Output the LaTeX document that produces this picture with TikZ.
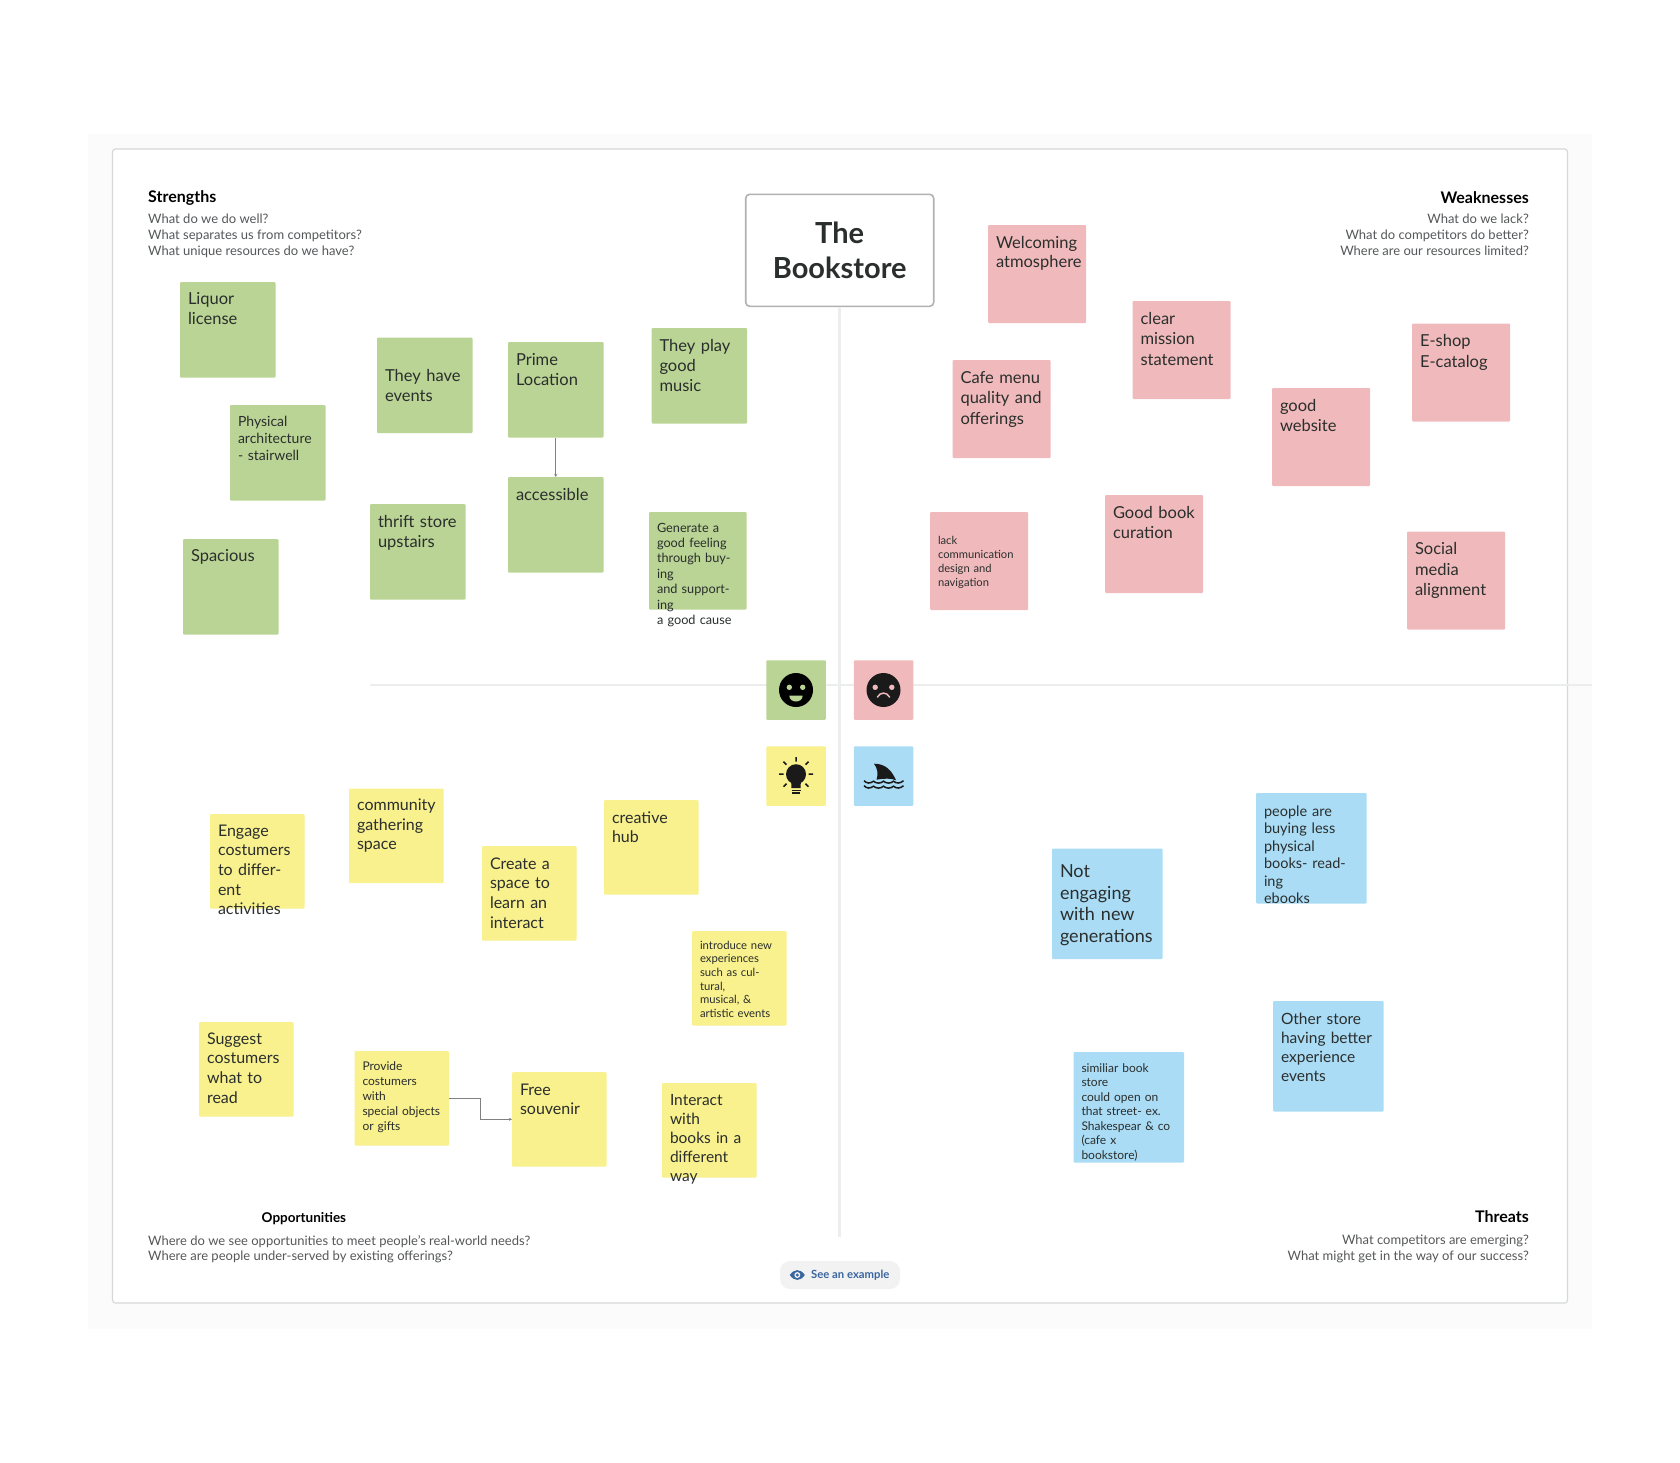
\documentclass[tikz,border=0pt]{standalone}
\usepackage{fontspec}
\setmainfont{Lato}
\usepackage{xcolor}
\usetikzlibrary{arrows.meta, calc}

\definecolor{stickygreen}{HTML}{BAD496}
\definecolor{stickypink}{HTML}{F0BABC}
\definecolor{stickyyellow}{HTML}{F9F18E}
\definecolor{stickyblue}{HTML}{AADCF6}
\definecolor{notetext}{HTML}{2A2E2C}
\definecolor{asktext}{HTML}{555759}
\definecolor{crossline}{HTML}{ECEEEE}
\definecolor{iconblack}{HTML}{1A1A1A}
\definecolor{linkblue}{HTML}{3A659F}

\tikzset{
    sticky/.style 2 args={rectangle, anchor=north west, rounded corners=1pt, inner xsep=8pt, inner ysep=0pt, outer sep=0pt,
        align=left, text=notetext, text width={#1-16pt}, text height=#2, text depth={#1-#2}},
    greennote/.style={sticky={95.5pt}{#1}, fill=stickygreen},
    pinknote/.style={sticky={98pt}{#1}, fill=stickypink},
    yellownote/.style={sticky={94.5pt}{#1}, fill=stickyyellow},
    bluenote/.style={sticky={110.5pt}{#1}, fill=stickyblue},
    notefont/.style 2 args={font=\fontsize{#1}{#2}\selectfont},
    heading/.style={font=\fontsize{16}{19}\selectfont\bfseries, text=black, inner sep=0pt},
    asking/.style={font=\fontsize{13}{15.7}\selectfont, text=asktext, inner sep=0pt},
    iconbox/.style={rectangle, minimum size=59.5pt, inner sep=0pt, rounded corners=1pt},
    crossrule/.style={draw=crossline, line width=2.6pt},
    linkline/.style={draw=gray, line width=0.9pt, -{Stealth[length=3pt,width=3pt]}},
}

\begin{document}
\begin{tikzpicture}[x=1pt, y=-1pt]
    \useasboundingbox (0,0) rectangle (1680,1462);
    \fill[white] (0,0) rectangle (1680,1462);
    \fill[black!1.5!white] (88,134) rectangle (1592,1329);
    \draw[fill=white, draw=crossline!80!gray, line width=1.2pt, rounded corners=3pt] (112.5,149) rectangle (1567.5,1303);

    % title and the cross
    \node[draw=black!30, fill=white, line width=1.6pt, rounded corners=4pt, minimum width=188pt, minimum height=112pt, align=center,
        font=\fontsize{29}{35}\selectfont\bfseries, text=notetext] (title) at (839.7,250.3) {The\\Bookstore};
    \coordinate (crossbottom) at (839.7,1237);
    \coordinate (crossleft) at (370,685);
    \coordinate (crossright) at (1592,685);
    \draw[crossrule] (title.south) -- (crossbottom);
    \draw[crossrule] (crossleft) -- (crossright);

    % corner texts
    \node[heading, anchor=west] (strengths) at (148,198) {Strengths};
    \node[asking, anchor=north west, align=left] (strengthsask) at (148,214) {What do we do well?\\What separates us from competitors?\\What unique resources do we have?};
    \node[heading, anchor=east] (weaknesses) at (1529,198) {Weaknesses};
    \node[asking, anchor=north east, align=right] (weaknessesask) at (1529,214) {What do we lack?\\What do competitors do better?\\Where are our resources limited?};
    \node[heading, anchor=west, font=\fontsize{13.5}{16}\selectfont\bfseries] (opportunities) at (261.5,1218.5) {Opportunities};
    \node[asking, anchor=north west, align=left] (opportunitiesask) at (148,1235) {Where do we see opportunities to meet people's real-world needs?\\Where are people under-served by existing offerings?};
    \node[heading, anchor=east] (threats) at (1529,1217) {Threats};
    \node[asking, anchor=north east, align=right] (threatsask) at (1529,1235) {What competitors are emerging?\\What might get in the way of our success?};

    % strengths
    \node[greennote=22pt, notefont={16.5}{20}] (liquor) at (180,282) {Liquor\\license};
    \node[greennote=21pt, notefont={14}{17}] (physical) at (230,405) {Physical\\architecture\\- stairwell};
    \node[greennote=22pt, notefont={16.5}{20}] (spacious) at (183,539) {Spacious};
    \node[greennote=44pt, notefont={16.5}{20}] (events) at (377,337.5) {They have\\events};
    \node[greennote=23pt, notefont={16.5}{20}] (thrift) at (370,504) {thrift store\\upstairs};
    \node[greennote=23pt, notefont={16.5}{20}] (prime) at (508,342) {Prime\\Location};
    \node[greennote=23pt, notefont={16.5}{20}] (accessible) at (508,477) {accessible};
    \node[greennote=23pt, notefont={16.5}{20}] (music) at (651.5,328) {They play\\good\\music};
    \node[sticky={97.5pt}{20pt}, fill=stickygreen, notefont={12.7}{15.4}] (feeling) at (649,512) {Generate a\\good feeling\\through buying\\and supporting\\a good cause};
    \draw[linkline] (prime.south) -- (accessible.north);

    % weaknesses
    \node[pinknote=23pt, notefont={16.5}{19.5}] (welcoming) at (988,225) {Welcoming\\atmosphere};
    \node[pinknote=23pt, notefont={16.5}{20.5}] (mission) at (1132.5,301) {clear\\mission\\statement};
    \node[pinknote=23pt, notefont={16.5}{20.5}] (cafe) at (952.5,360) {Cafe menu\\quality and\\offerings};
    \node[pinknote=23pt, notefont={16.5}{20.5}] (website) at (1272,388) {good\\website};
    \node[pinknote=23pt, notefont={16.5}{20.5}] (eshop) at (1412,323.5) {E-shop\\E-catalog};
    \node[pinknote=32pt, notefont={11.2}{14}] (lack) at (930,512) {lack\\communication\\design and\\navigation};
    \node[pinknote=23pt, notefont={16.5}{20.5}] (curation) at (1105,495) {Good book\\curation};
    \node[pinknote=23pt, notefont={16.5}{20.5}] (social) at (1407,531.5) {Social\\media\\alignment};

    % opportunities
    \node[yellownote=22pt, notefont={16}{19.7}] (engage) at (210,814) {Engage\\costumers\\to different\\activities};
    \node[yellownote=22pt, notefont={16}{19.7}] (community) at (349,788.5) {community\\gathering\\space};
    \node[yellownote=23pt, notefont={16}{19.7}] (space) at (482,846) {Create a\\space to\\learn an\\interact};
    \node[yellownote=23pt, notefont={16}{19.7}] (hub) at (604,800) {creative\\hub};
    \node[yellownote=18pt, notefont={11.3}{13.7}] (introduce) at (692,931) {introduce new\\experiences\\such as cultural,\\musical, \&\\artistic events};
    \node[yellownote=22pt, notefont={16}{19.7}] (suggest) at (199,1022) {Suggest\\costumers\\what to\\read};
    \node[yellownote=19pt, notefont={12}{15}] (provide) at (354.5,1051) {Provide\\costumers with\\special objects\\or gifts};
    \node[yellownote=23pt, notefont={16}{19.7}] (souvenir) at (512,1072) {Free\\souvenir};
    \node[yellownote=22pt, notefont={15.5}{19}] (interact) at (662,1083) {Interact with\\books in a\\different\\way};
    \draw[linkline] (provide.east) -| ($(provide.east)!0.5!(souvenir.west)$) |- (souvenir.west);

    % threats
    \node[bluenote=23pt, notefont={14.5}{17.5}] (ebooks) at (1256,793) {people are\\buying less\\physical\\books- reading\\ebooks};
    \node[bluenote=29pt, notefont={18}{21.7}] (generations) at (1052,848.5) {Not\\engaging\\with new\\generations};
    \node[bluenote=23pt, notefont={15.5}{19}] (better) at (1273,1001) {Other store\\having better\\experience\\events};
    \node[bluenote=20pt, notefont={12}{14.5}] (similiar) at (1073.5,1052) {similiar book store\\could open on\\that street- ex.\\Shakespear \& co\\(cafe x\\bookstore)};

    % the four icons
    \node[iconbox, fill=stickygreen] (happy) at (796,690) {};
    \node[iconbox, fill=stickypink] (sad) at (883.5,690) {};
    \node[iconbox, fill=stickyyellow] (bulb) at (796,776.2) {};
    \node[iconbox, fill=stickyblue] (shark) at (883.5,776.2) {};

    \begin{scope}[shift={(happy.center)}]
        \fill[black] (0,0) circle (17);
        \fill[stickygreen] (-6.7,-2.7) circle (2.7) (6.7,-2.7) circle (2.7);
        \fill[stickygreen] (-6.7,5.5) -- (6.7,5.5) .. controls (6.7,13.5) and (-6.7,13.5) .. (-6.7,5.5);
    \end{scope}
    \begin{scope}[shift={(sad.center)}]
        \fill[iconblack] (0,0) circle (17);
        \fill[stickypink] (-8.3,-2.7) circle (2.7) (8.3,-2.7) circle (2.7);
        \draw[stickypink, line width=1.5pt, line cap=round] (-6,7) .. controls (-3.5,1.8) and (3.5,1.8) .. (6,7);
    \end{scope}
    \begin{scope}[shift={(bulb.center)}]
        \fill[iconblack] (0,-2) circle (10);
        \fill[iconblack] (-5,3) -- (5,3) -- (4.5,12) -- (-4.5,12) -- cycle;
        \draw[iconblack, line width=1.4pt] (-4.5,14) -- (4.5,14) (-4,16.6) -- (4,16.6);
        \draw[iconblack, line width=1.5pt] (0,-19) -- (0,-14.5) (-17,-2) -- (-12.5,-2) (12.5,-2) -- (17,-2)
            (-12.5,-14.5) -- (-9.5,-11.5) (12.5,-14.5) -- (9.5,-11.5) (-12.5,10.5) -- (-9.5,7.5) (12.5,10.5) -- (9.5,7.5);
    \end{scope}
    \begin{scope}[shift={(shark.center)}]
        \fill[iconblack] (-9.5,-12.5) .. controls (2,-12.5) and (8,-6) .. (12.5,4) .. controls (7,2) and (2,2) .. (-7,3.5) .. controls (-5,-2) and (-6,-8) .. (-9.5,-12.5);
        \draw[iconblack, line width=1.5pt] (-19.5,4.5) .. controls (-16.5,7.5) and (-13.5,7.5) .. (-10,5) .. controls (-7,7.5) and (-3,7.5) .. (0,5) .. controls (3,7.5) and (7,7.5) .. (10,5) .. controls (13,7.5) and (16.5,7.5) .. (20,4.5);
        \draw[iconblack, line width=1.5pt] (-19.5,9.5) .. controls (-16.5,12.5) and (-13.5,12.5) .. (-10,10) .. controls (-7,12.5) and (-3,12.5) .. (0,10) .. controls (3,12.5) and (7,12.5) .. (10,10) .. controls (13,12.5) and (16.5,12.5) .. (20,9.5);
    \end{scope}

    % example button
    \node[rectangle, fill=black!5, rounded corners=10pt, minimum width=120pt, minimum height=28pt] (button) at (840,1275) {};
    \node[font=\fontsize{11.3}{13}\selectfont\bfseries, text=linkblue, inner sep=0pt, anchor=west] (buttontext) at (811,1275) {See an example};
    \begin{scope}[shift={(797.3,1275)}]
        \fill[linkblue] (-7.5,0) .. controls (-3,-6.5) and (3,-6.5) .. (7.5,0) .. controls (3,6.5) and (-3,6.5) .. (-7.5,0);
        \fill[black!5] (0,0) circle (3);
        \fill[linkblue] (0,0) circle (1.7);
    \end{scope}
\end{tikzpicture}
\end{document}
